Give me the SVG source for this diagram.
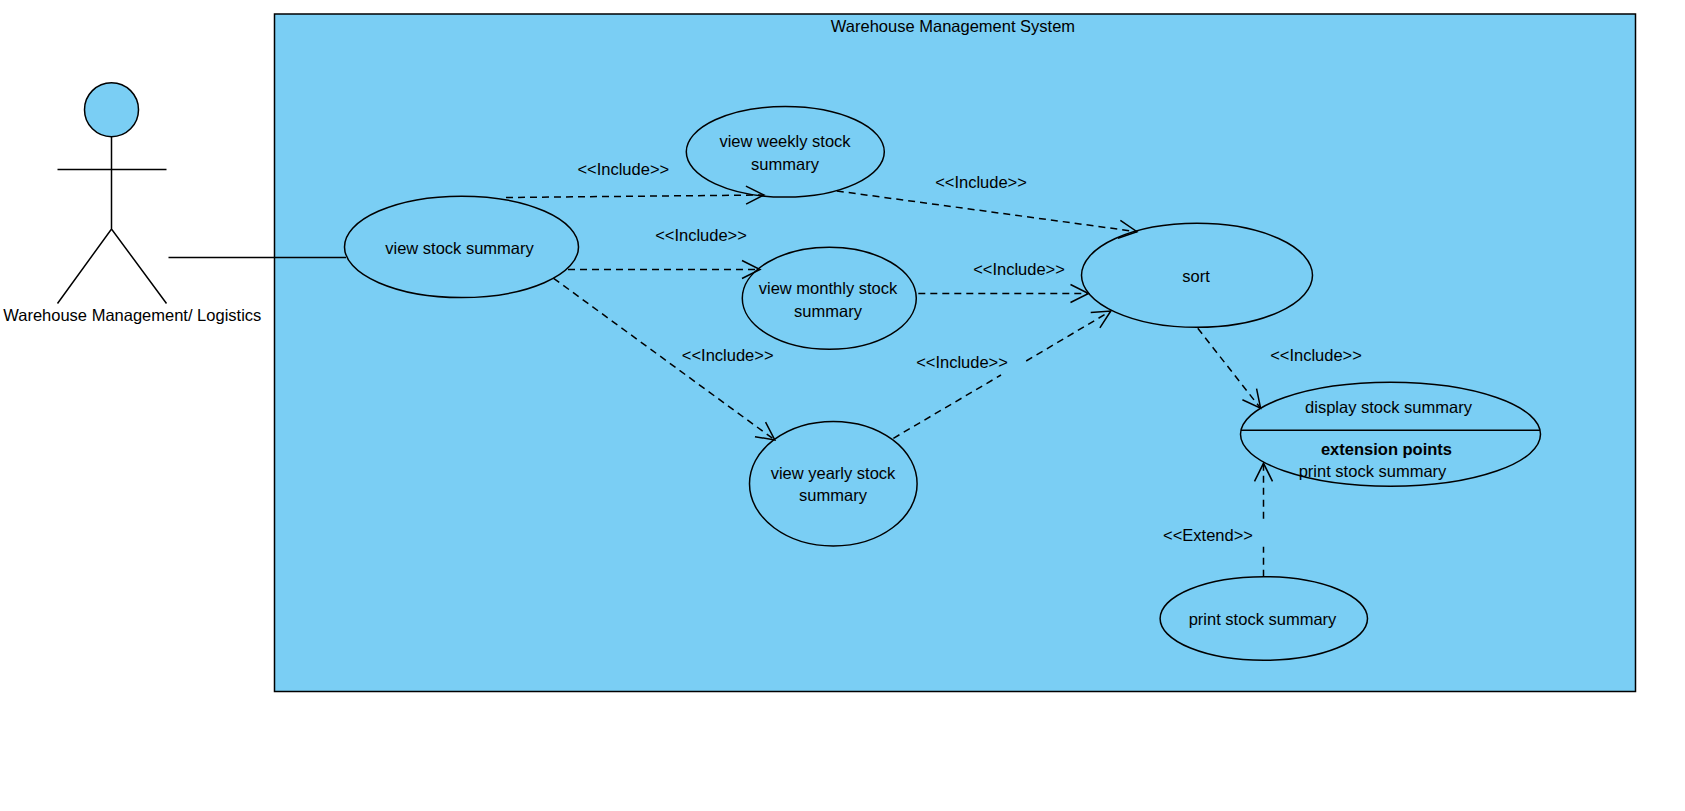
<svg xmlns="http://www.w3.org/2000/svg" width="1685" height="811" viewBox="0 0 1685 811">
<style>
text{font-family:"Liberation Sans",Arial,sans-serif;font-size:16.5px;fill:#000;text-anchor:middle}
.b{font-weight:bold}
.s{fill:#7acef4;stroke:#000;stroke-width:1.5}
.l{fill:none;stroke:#000;stroke-width:1.5}
.d{fill:none;stroke:#000;stroke-width:1.5;stroke-dasharray:7 5}
.a{marker-end:url(#open)}
</style>
<defs>
<marker id="open" markerUnits="userSpaceOnUse" viewBox="-21 -11 23 22" refX="0" refY="0" markerWidth="23" markerHeight="22" orient="auto" overflow="visible">
<path d="M-18,-9 L0,0 L-18,9" fill="none" stroke="#000" stroke-width="1.5"/>
</marker>
</defs>
<g id="system">
<rect class="s" x="274.5" y="14" width="1361" height="677.5"/>
<text x="953" y="32">Warehouse Management System</text>
</g>
<g id="actor">
<ellipse class="s" cx="111.5" cy="109.7" rx="27" ry="27"/>
<path class="l" d="M111.5,136.7V229M57.5,169.5H166.5M57.5,303.5L111.5,229L166.5,303.5"/>
<text x="132.3" y="320.5">Warehouse Management/ Logistics</text>
</g>
<g id="view-stock-summary">
<ellipse class="s" cx="461.5" cy="246.9" rx="117" ry="50.7"/>
<text x="459.5" y="254">view stock summary</text>
</g>
<g id="view-weekly">
<ellipse class="s" cx="785.3" cy="151.8" rx="99" ry="45.3"/>
<text x="785" y="147.3">view weekly stock</text>
<text x="785" y="170">summary</text>
</g>
<g id="view-monthly">
<ellipse class="s" cx="829.3" cy="298.3" rx="87" ry="51"/>
<text x="828" y="294">view monthly stock</text>
<text x="828" y="317">summary</text>
</g>
<g id="view-yearly">
<ellipse class="s" cx="833.3" cy="483.7" rx="83.8" ry="62.3"/>
<text x="833" y="479">view yearly stock</text>
<text x="833" y="501">summary</text>
</g>
<g id="sort">
<ellipse class="s" cx="1197" cy="275.3" rx="115.5" ry="52"/>
<text x="1196" y="282">sort</text>
</g>
<g id="display-stock-summary">
<ellipse class="s" cx="1390.5" cy="434.3" rx="150" ry="52"/>
<path class="l" d="M1241,430.3H1540"/>
<text x="1388.5" y="412.5">display stock summary</text>
<text class="b" x="1386.5" y="455">extension points</text>
<text x="1372.5" y="477">print stock summary</text>
</g>
<g id="print-stock-summary">
<ellipse class="s" cx="1263.8" cy="618.5" rx="103.7" ry="41.8"/>
<text x="1262.5" y="625">print stock summary</text>
</g>
<g id="connectors">
<path class="l" d="M168.5,257.5H346"/>
<path class="d a" d="M506,197.5L764,195"/>
<path class="d a" d="M568,269.5H760"/>
<path class="d a" d="M553.6,278.3L774.8,440"/>
<path class="d a" d="M836.8,191L1137,231.7"/>
<path class="d a" d="M918.3,293.5H1088.5"/>
<path class="d" d="M893.4,438.3L1001,375"/>
<path class="d a" d="M1026.2,361L1110.8,311"/>
<path class="d a" d="M1197.8,328.3L1260.6,408.3"/>
<path class="d" d="M1263.5,576.7V546.7"/>
<path class="d a" d="M1263.5,518.7V463.3"/>
</g>
<g id="connector-labels">
<text x="623.3" y="175">&lt;&lt;Include&gt;&gt;</text>
<text x="701" y="241">&lt;&lt;Include&gt;&gt;</text>
<text x="727.7" y="360.5">&lt;&lt;Include&gt;&gt;</text>
<text x="981" y="187.5">&lt;&lt;Include&gt;&gt;</text>
<text x="1019" y="275">&lt;&lt;Include&gt;&gt;</text>
<text x="962" y="367.5">&lt;&lt;Include&gt;&gt;</text>
<text x="1316" y="361">&lt;&lt;Include&gt;&gt;</text>
<text x="1208" y="540.5">&lt;&lt;Extend&gt;&gt;</text>
</g>
</svg>
